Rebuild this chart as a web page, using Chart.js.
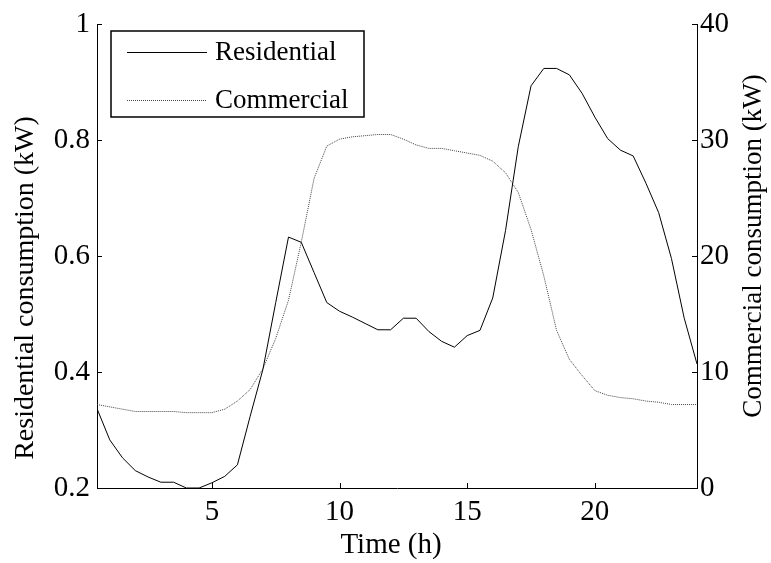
<!DOCTYPE html>
<html>
<head>
<meta charset="utf-8">
<script src="https://cdn.jsdelivr.net/npm/chart.js@4.4.1/dist/chart.umd.min.js"></script>
<style>
  html, body { margin: 0; padding: 0; background: #fff; }
  #wrap { width: 771px; height: 563px; position: relative; }
</style>
</head>
<body>
<div id="wrap"><canvas id="c" width="771" height="563"></canvas></div>
<script>
// Half-hourly time stamps (h)
const hours = [0.5, 1, 1.5, 2, 2.5, 3, 3.5, 4, 4.5, 5, 5.5, 6, 6.5, 7, 7.5, 8,
  8.5, 9, 9.5, 10, 10.5, 11, 11.5, 12, 12.5, 13, 13.5, 14, 14.5, 15, 15.5, 16,
  16.5, 17, 17.5, 18, 18.5, 19, 19.5, 20, 20.5, 21, 21.5, 22, 22.5, 23, 23.5, 24];

// Residential consumption (kW), left axis
const residential = [0.337, 0.283, 0.252, 0.230, 0.219, 0.210, 0.210, 0.200, 0.200, 0.209, 0.220, 0.240,
  0.324, 0.405, 0.520, 0.633, 0.624, 0.572, 0.520, 0.505, 0.495, 0.484, 0.473, 0.473,
  0.493, 0.493, 0.470, 0.453, 0.443, 0.463, 0.472, 0.528, 0.644, 0.789, 0.894, 0.924,
  0.924, 0.913, 0.881, 0.840, 0.803, 0.783, 0.773, 0.726, 0.675, 0.596, 0.493, 0.414];

// Commercial consumption (kW), right axis
const commercial = [7.2, 7.0, 6.8, 6.6, 6.6, 6.6, 6.6, 6.5, 6.5, 6.5, 6.8, 7.5,
  8.5, 10.3, 12.9, 16.2, 21.2, 26.7, 29.5, 30.1, 30.3, 30.4, 30.5, 30.5,
  30.1, 29.6, 29.3, 29.3, 29.1, 28.9, 28.7, 28.2, 27.2, 25.5, 22.3, 18.3,
  13.6, 11.1, 9.7, 8.4, 8.0, 7.8, 7.7, 7.5, 7.4, 7.2, 7.2, 7.2];

const xTicks = [5, 10, 15, 20];
const leftTicks = [0.2, 0.4, 0.6, 0.8, 1];
const rightTicks = [0, 10, 20, 30, 40];

const seriesNames = ['Residential', 'Commercial'];
const xTitle = 'Time (h)';
const leftTitle = 'Residential consumption (kW)';
const rightTitle = 'Commercial consumption (kW)';

const FONT = "'Liberation Serif', 'Times New Roman', serif";
const tickFont = { family: FONT, size: 29 };

const toPoints = (vals) => vals.map((v, i) => ({ x: hours[i], y: v }));

// Inward tick marks, axis titles and the boxed legend
const decorations = {
  id: 'decorations',
  afterDraw(chart) {
    const ctx = chart.ctx;
    const { x, y, y1 } = chart.scales;
    const area = chart.chartArea;
    const len = 5;
    ctx.save();
    ctx.strokeStyle = '#000';
    ctx.lineWidth = 1;
    ctx.beginPath();
    leftTicks.forEach(v => {
      const py = Math.round(y.getPixelForValue(v)) + 0.5;
      ctx.moveTo(area.left, py); ctx.lineTo(area.left + len, py);
    });
    rightTicks.forEach(v => {
      const py = Math.round(y1.getPixelForValue(v)) + 0.5;
      ctx.moveTo(area.right, py); ctx.lineTo(area.right - len, py);
    });
    xTicks.forEach(v => {
      const px = Math.round(x.getPixelForValue(v)) + 0.5;
      ctx.moveTo(px, area.bottom); ctx.lineTo(px, area.bottom - len);
    });
    ctx.stroke();

    // Axis titles
    ctx.fillStyle = '#000';
    ctx.textAlign = 'center';
    ctx.textBaseline = 'alphabetic';
    ctx.font = `29px ${FONT}`;
    ctx.fillText(xTitle, 391, 553);

    ctx.save();
    ctx.font = `28px ${FONT}`;
    ctx.translate(33, 288);
    ctx.rotate(-Math.PI / 2);
    ctx.fillText(leftTitle, 0, 0);
    ctx.restore();

    ctx.save();
    ctx.font = `27px ${FONT}`;
    ctx.translate(761, 246);
    ctx.rotate(-Math.PI / 2);
    ctx.fillText(rightTitle, 0, 0);
    ctx.restore();

    // Legend
    const bx = 111, by = 31, bw = 253, bh = 86;
    ctx.fillStyle = '#fff';
    ctx.fillRect(bx, by, bw, bh);
    ctx.lineWidth = 1.5;
    ctx.strokeStyle = '#000';
    ctx.strokeRect(bx, by, bw, bh);
    const rows = [52, 100];
    chart.data.datasets.forEach((ds, i) => {
      const ly = rows[i] + 0.5;
      ctx.beginPath();
      ctx.lineWidth = 1;
      ctx.setLineDash(ds.borderDash || []);
      ctx.strokeStyle = ds.borderColor;
      ctx.moveTo(127, ly); ctx.lineTo(207, ly);
      ctx.stroke();
      ctx.setLineDash([]);
      ctx.fillStyle = '#000';
      ctx.font = `27px ${FONT}`;
      ctx.textAlign = 'left';
      ctx.textBaseline = 'middle';
      ctx.fillText(ds.label, 215, rows[i] + 1);
    });
    ctx.restore();
  }
};

new Chart(document.getElementById('c'), {
  type: 'line',
  data: {
    datasets: [
      {
        label: seriesNames[0],
        data: toPoints(residential),
        yAxisID: 'y',
        borderColor: '#000',
        borderWidth: 1,
        pointRadius: 0,
        tension: 0,
        fill: false
      },
      {
        label: seriesNames[1],
        data: toPoints(commercial),
        yAxisID: 'y1',
        borderColor: '#444',
        borderWidth: 1,
        borderDash: [1, 1],
        pointRadius: 0,
        tension: 0,
        fill: false
      }
    ]
  },
  options: {
    responsive: false,
    animation: false,
    events: [],
    layout: { padding: { top: 19.5, left: 0, right: 0, bottom: 0 } },
    plugins: { legend: { display: false }, tooltip: { enabled: false } },
    scales: {
      x: {
        type: 'linear',
        min: 0.5,
        max: 24,
        afterBuildTicks: s => { s.ticks = xTicks.map(v => ({ value: v })); },
        afterFit: s => { s.height = 75; },
        grid: { display: false, drawTicks: false },
        border: { display: true, color: '#000', width: 1 },
        ticks: { font: tickFont, color: '#000', padding: 7, maxRotation: 0, autoSkip: false }
      },
      y: {
        type: 'linear',
        position: 'left',
        min: 0.2,
        max: 1,
        afterBuildTicks: s => { s.ticks = leftTicks.map(v => ({ value: v })); },
        afterFit: s => { s.width = 97; },
        grid: { display: false, drawTicks: false },
        border: { display: true, color: '#000', width: 1 },
        ticks: { font: tickFont, color: '#000', padding: 7, autoSkip: false,
                 callback: v => String(Math.round(v * 10) / 10) }
      },
      y1: {
        type: 'linear',
        position: 'right',
        min: 0,
        max: 40,
        afterBuildTicks: s => { s.ticks = rightTicks.map(v => ({ value: v })); },
        afterFit: s => { s.width = 74; },
        grid: { display: false, drawTicks: false },
        border: { display: true, color: '#000', width: 1 },
        ticks: { font: tickFont, color: '#000', padding: 3, autoSkip: false }
      }
    }
  },
  plugins: [decorations]
});
</script>
</body>
</html>
